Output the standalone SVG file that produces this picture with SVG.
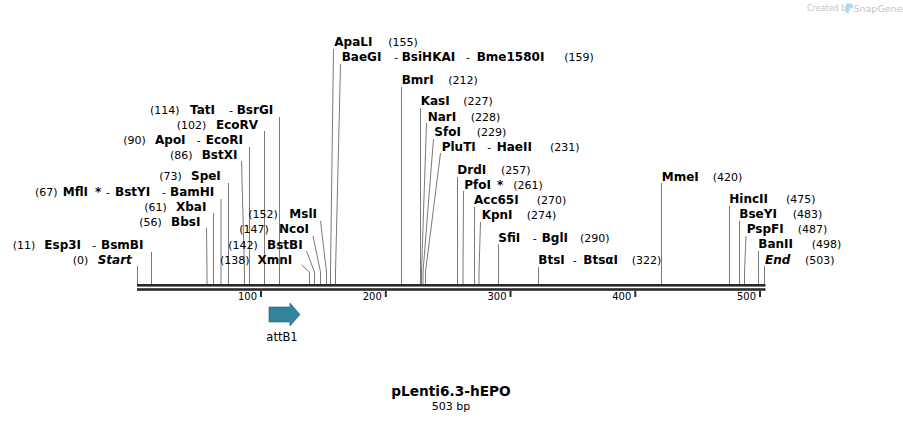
<svg xmlns="http://www.w3.org/2000/svg" width="903" height="423" viewBox="0 0 903 423">
<style>
text{font-family:"DejaVu Sans","Liberation Sans",sans-serif;fill:#000}
.nm{font-weight:bold;font-size:12px}
.it{font-weight:bold;font-style:italic;font-size:12px}
.num{font-size:11px}
.tk{font-size:10px;text-anchor:end}
.ln{stroke:#7a7a7a;stroke-width:1;fill:none}
.bar{fill:#2b2b2b}
</style>
<rect width="903" height="423" fill="#fff"/>
<g id="watermark">
<text x="807" y="11" style="font-size:8px;fill:#c4c4c4">Created by</text>
<path d="M846 3.5h4.5a2.5 2.5 0 0 1 0 5h-2v4.5h-2.5z" fill="#aad8f2"/>
<text x="853.5" y="11.5" style="font-size:9.5px;fill:#c4c4c4">SnapGene</text>
</g>
<g id="connectors">
<path class="ln" d="M137.5 266V284"/>
<path class="ln" d="M151.5 252V284"/>
<path class="ln" d="M206.5 228L207 272V284"/>
<path class="ln" d="M213.5 213V284"/>
<path class="ln" d="M221 199V284"/>
<path class="ln" d="M228.5 183V284"/>
<path class="ln" d="M241.5 161L244.5 272V284"/>
<path class="ln" d="M249.5 147V284"/>
<path class="ln" d="M264.5 131V284"/>
<path class="ln" d="M279.5 117V284"/>
<path class="ln" d="M301.5 265L309.5 272V284"/>
<path class="ln" d="M306.5 251L314.5 272V284"/>
<path class="ln" d="M313 236L320.5 272V284"/>
<path class="ln" d="M320.5 221L326.5 272V284"/>
<path class="ln" d="M333.5 49L330.5 272V284"/>
<path class="ln" d="M340.5 64L335.5 272V284"/>
<path class="ln" d="M401.5 87V284"/>
<path class="ln" d="M420.5 108V284"/>
<path class="ln" d="M426.5 123L421.5 272V284"/>
<path class="ln" d="M433.5 139L423 272V284"/>
<path class="ln" d="M440.5 153L425.5 272V284"/>
<path class="ln" d="M457.5 177V284"/>
<path class="ln" d="M463.5 191L463 272V284"/>
<path class="ln" d="M474.5 207V284"/>
<path class="ln" d="M480.5 222L479 272V284"/>
<path class="ln" d="M498.5 244V284"/>
<path class="ln" d="M538.5 267V284"/>
<path class="ln" d="M661.5 183V284"/>
<path class="ln" d="M729.5 206V284"/>
<path class="ln" d="M739.5 221V284"/>
<path class="ln" d="M746 236L744.5 272V284"/>
<path class="ln" d="M758.5 251V284"/>
<path class="ln" d="M764.5 266V284"/>
</g>
<g id="sequence-bar">
<rect class="bar" x="137" y="284" width="628.5" height="2.6"/>
<rect class="bar" x="137" y="288.2" width="628.5" height="2.6"/>
<rect class="bar" x="260" y="291" width="2" height="6"/>
<rect class="bar" x="384.8" y="291" width="2" height="6"/>
<rect class="bar" x="509.5" y="291" width="2" height="6"/>
<rect class="bar" x="634.3" y="291" width="2" height="6"/>
<rect class="bar" x="759" y="291" width="2" height="6"/>
<text class="tk" x="257" y="300">100</text>
<text class="tk" x="381.8" y="300">200</text>
<text class="tk" x="506.5" y="300">300</text>
<text class="tk" x="631.3" y="300">400</text>
<text class="tk" x="756" y="300">500</text>
</g>
<g id="site-Start"><text y="264"><tspan class="num" x="72.7">(0)</tspan><tspan class="it" x="97.7">Start</tspan></text></g>
<g id="site-Esp3I"><text y="249"><tspan class="num" x="12.7">(11)</tspan><tspan class="nm" x="44.3">Esp3I</tspan><tspan class="num" x="92.3">-</tspan><tspan class="nm" x="101">BsmBI</tspan></text></g>
<g id="site-BbsI"><text y="225.7"><tspan class="num" x="139.3">(56)</tspan><tspan class="nm" x="171">BbsI</tspan></text></g>
<g id="site-XbaI"><text y="211"><tspan class="num" x="144.3">(61)</tspan><tspan class="nm" x="176">XbaI</tspan></text></g>
<g id="site-MflI"><text y="195.7"><tspan class="num" x="35">(67)</tspan><tspan class="nm" x="62.7">MflI</tspan><tspan class="nm" x="95">*</tspan><tspan class="num" x="106">-</tspan><tspan class="nm" x="115">BstYI</tspan><tspan class="num" x="162">-</tspan><tspan class="nm" x="170">BamHI</tspan></text></g>
<g id="site-SpeI"><text y="180"><tspan class="num" x="159.3">(73)</tspan><tspan class="nm" x="191">SpeI</tspan></text></g>
<g id="site-BstXI"><text y="159"><tspan class="num" x="170">(86)</tspan><tspan class="nm" x="201.7">BstXI</tspan></text></g>
<g id="site-ApoI"><text y="144"><tspan class="num" x="123.3">(90)</tspan><tspan class="nm" x="155">ApoI</tspan><tspan class="num" x="196.7">-</tspan><tspan class="nm" x="205.7">EcoRI</tspan></text></g>
<g id="site-EcoRV"><text y="129"><tspan class="num" x="176.7">(102)</tspan><tspan class="nm" x="216">EcoRV</tspan></text></g>
<g id="site-TatI"><text y="113.5"><tspan class="num" x="150">(114)</tspan><tspan class="nm" x="190">TatI</tspan><tspan class="num" x="229">-</tspan><tspan class="nm" x="236.7">BsrGI</tspan></text></g>
<g id="site-XmnI"><text y="264"><tspan class="num" x="220">(138)</tspan><tspan class="nm" x="257.5">XmnI</tspan></text></g>
<g id="site-BstBI"><text y="248.5"><tspan class="num" x="228.3">(142)</tspan><tspan class="nm" x="267">BstBI</tspan></text></g>
<g id="site-NcoI"><text y="233.3"><tspan class="num" x="239.3">(147)</tspan><tspan class="nm" x="279">NcoI</tspan></text></g>
<g id="site-MslI"><text y="218.3"><tspan class="num" x="248.3">(152)</tspan><tspan class="nm" x="289.3">MslI</tspan></text></g>
<g id="site-ApaLI"><text y="46"><tspan class="nm" x="334.3">ApaLI</tspan><tspan class="num" x="388.3">(155)</tspan></text></g>
<g id="site-BaeGI"><text y="60.7"><tspan class="nm" x="341.7">BaeGI</tspan><tspan class="num" x="394.3">-</tspan><tspan class="nm" x="401.7">BsiHKAI</tspan><tspan class="num" x="466">-</tspan><tspan class="nm" x="476.7">Bme1580I</tspan><tspan class="num" x="564.3">(159)</tspan></text></g>
<g id="site-BmrI"><text y="84"><tspan class="nm" x="401.7">BmrI</tspan><tspan class="num" x="448.3">(212)</tspan></text></g>
<g id="site-KasI"><text y="105"><tspan class="nm" x="420.7">KasI</tspan><tspan class="num" x="463.3">(227)</tspan></text></g>
<g id="site-NarI"><text y="120.7"><tspan class="nm" x="427.7">NarI</tspan><tspan class="num" x="470.7">(228)</tspan></text></g>
<g id="site-SfoI"><text y="136"><tspan class="nm" x="434.3">SfoI</tspan><tspan class="num" x="476.7">(229)</tspan></text></g>
<g id="site-PluTI"><text y="150.7"><tspan class="nm" x="441.7">PluTI</tspan><tspan class="num" x="487.3">-</tspan><tspan class="nm" x="496.7">HaeII</tspan><tspan class="num" x="550">(231)</tspan></text></g>
<g id="site-DrdI"><text y="174"><tspan class="nm" x="457.3">DrdI</tspan><tspan class="num" x="501">(257)</tspan></text></g>
<g id="site-PfoI"><text y="189"><tspan class="nm" x="464.3">PfoI</tspan><tspan class="nm" x="497">*</tspan><tspan class="num" x="513.3">(261)</tspan></text></g>
<g id="site-Acc65I"><text y="204"><tspan class="nm" x="474">Acc65I</tspan><tspan class="num" x="536.7">(270)</tspan></text></g>
<g id="site-KpnI"><text y="219"><tspan class="nm" x="481.7">KpnI</tspan><tspan class="num" x="526.7">(274)</tspan></text></g>
<g id="site-SfiI"><text y="241.7"><tspan class="nm" x="498.3">SfiI</tspan><tspan class="num" x="532.7">-</tspan><tspan class="nm" x="541.7">BglI</tspan><tspan class="num" x="580">(290)</tspan></text></g>
<g id="site-BtsI"><text y="264"><tspan class="nm" x="538.3">BtsI</tspan><tspan class="num" x="572.7">-</tspan><tspan class="nm" x="583.3">BtsαI</tspan><tspan class="num" x="631.7">(322)</tspan></text></g>
<g id="site-MmeI"><text y="180.7"><tspan class="nm" x="661.7">MmeI</tspan><tspan class="num" x="712.7">(420)</tspan></text></g>
<g id="site-HincII"><text y="203.3"><tspan class="nm" x="729.3">HincII</tspan><tspan class="num" x="786">(475)</tspan></text></g>
<g id="site-BseYI"><text y="218.3"><tspan class="nm" x="739.3">BseYI</tspan><tspan class="num" x="792.7">(483)</tspan></text></g>
<g id="site-PspFI"><text y="233.3"><tspan class="nm" x="746.7">PspFI</tspan><tspan class="num" x="797.7">(487)</tspan></text></g>
<g id="site-BanII"><text y="248.3"><tspan class="nm" x="758.3">BanII</tspan><tspan class="num" x="811.7">(498)</tspan></text></g>
<g id="site-End"><text y="264"><tspan class="it" x="765">End</tspan><tspan class="num" x="805">(503)</tspan></text></g>
<g id="feature-attB1">
<path d="M269 307H290V303L300 314.5L290 326V322H269Z" fill="#32849c" stroke="#1e5a6b" stroke-width="0.6"/>
<text x="282" y="341" text-anchor="middle" style="font-size:11.5px">attB1</text>
</g>
<g id="title">
<text x="451" y="396" text-anchor="middle" style="font-size:13.7px;font-weight:bold">pLenti6.3-hEPO</text>
<text x="451" y="409.5" text-anchor="middle" style="font-size:11px">503 bp</text>
</g>
</svg>
